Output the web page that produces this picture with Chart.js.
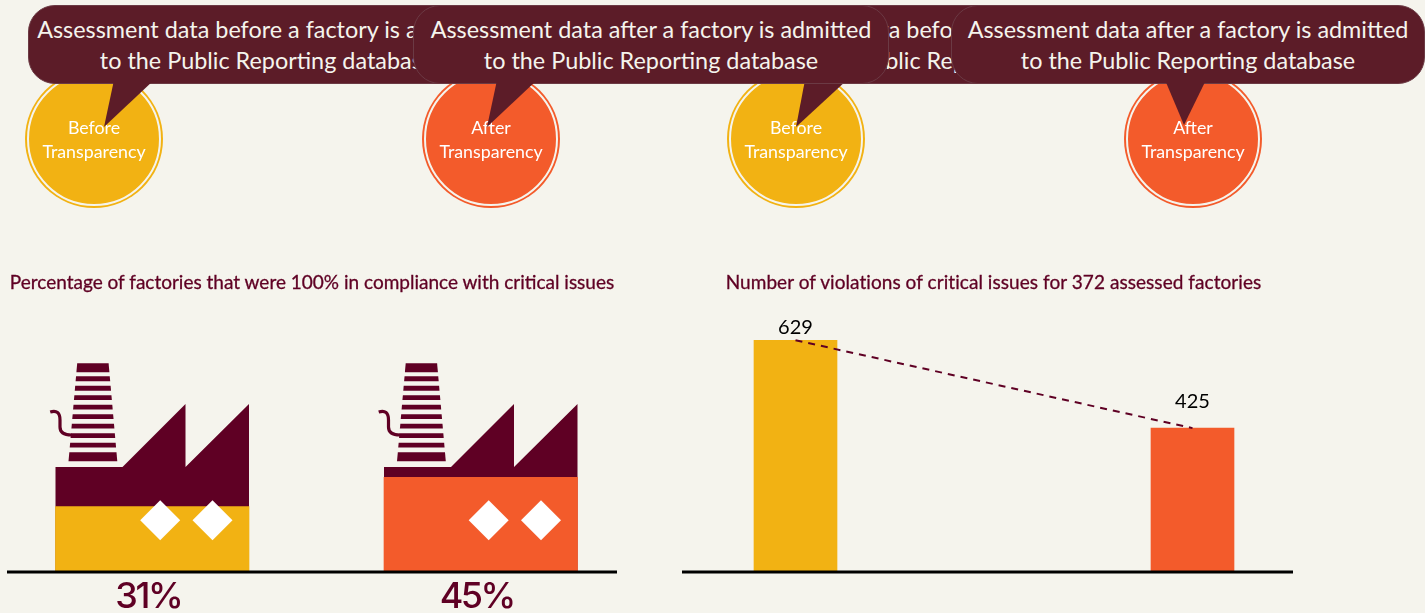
<!DOCTYPE html>
<html>
<head>
<meta charset="utf-8">
<title>Before and after transparency</title>
<script src="https://cdn.jsdelivr.net/npm/chart.js@4"></script>
<style>
  html, body { margin: 0; padding: 0; width: 1425px; height: 613px; overflow: hidden; background: #f5f4ed; font-family: Lato, sans-serif; }
  canvas { position: absolute; top: 0; }
  .title { position: absolute; top: 270px; height: 24px; line-height: 24px; font-size: 19px; color: #5f0024; -webkit-text-stroke: 0.3px #5f0024; text-align: center; white-space: nowrap; }
  .circle { position: absolute; top: 72px; width: 130px; height: 130px; border-radius: 50%; border: 2px solid #f5f4ed; color: #fff; font-size: 17.8px; line-height: 24px; text-align: center; }
  .circle span { display: block; position: relative; top: 41px; }
  .before { background: #f2b213; box-shadow: 0 0 0 2px #f2b213; }
  .after { background: #f35b2b; box-shadow: 0 0 0 2px #f35b2b; }
  .callout { position: absolute; top: 5px; height: 77px; background: #5c1c28; border: 1px solid #6b3a44; border-radius: 27px; color: #f5f4ed; font-size: 23.4px; line-height: 31px; text-align: center; white-space: nowrap; }
  .callout p { margin: 8px 0 0; }
  .tail { position: absolute; top: 0; left: 0; width: 1425px; height: 613px; background: #5c1c28; pointer-events: none; }
</style>
</head>
<body>
<canvas id="factoryChart" width="657" height="613" style="left:-12px"></canvas>
<canvas id="violationChart" width="794" height="613" style="left:597px"></canvas>

<div class="title" style="left:0;width:624px">Percentage of factories that were 100% in compliance with critical issues</div>
<div class="title" style="left:700px;width:587px;letter-spacing:0.06px">Number of violations of critical issues for 372 assessed factories</div>

<div class="circle before" style="left:27px"><span>Before</span><span>Transparency</span></div>
<div class="circle after" style="left:424px"><span>After</span><span>Transparency</span></div>
<div class="circle before" style="left:729px"><span>Before</span><span>Transparency</span></div>
<div class="circle after" style="left:1126px"><span>After</span><span>Transparency</span></div>

<div class="callout" style="left:28px;width:476px"><p>Assessment data before a factory is admitted<br>to the Public Reporting database</p></div>
<div class="tail" style="clip-path:polygon(114px 80px,104px 127px,154px 80px)"></div>
<div class="callout" style="left:719px;width:476px"><p>Assessment data before a factory is admitted<br>to the Public Reporting database</p></div>
<div class="tail" style="clip-path:polygon(805px 80px,796px 127px,847px 80px)"></div>
<div class="callout" style="left:413px;width:474px"><p>Assessment data after a factory is admitted<br>to the Public Reporting database</p></div>
<div class="tail" style="clip-path:polygon(497px 80px,487px 127px,537px 80px)"></div>
<div class="callout" style="left:951px;width:472px"><p>Assessment data after a factory is admitted<br>to the Public Reporting database</p></div>
<div class="tail" style="clip-path:polygon(1165px 80px,1184px 125px,1206px 80px)"></div>

<script>
const categories = ['Before Transparency', 'After Transparency'];
const compliancePercent = [31, 45];
const violations = [629, 425];
const barColors = ['#f2b213', '#f35b2b'];

const MAROON = '#5f0024';

// black ground line under each chart
const baselinePlugin = {
  id: 'baseline',
  afterDraw(chart, args, opts) {
    const ctx = chart.ctx;
    ctx.save();
    ctx.strokeStyle = '#000';
    ctx.lineWidth = 3;
    ctx.beginPath();
    ctx.moveTo(opts.from, chart.chartArea.bottom + 1);
    ctx.lineTo(opts.to, chart.chartArea.bottom + 1);
    ctx.stroke();
    ctx.restore();
  }
};

// factory outline behind each bar, sized from the bar itself
const factoryPlugin = {
  id: 'factory',
  beforeDraw(chart) {
    // tighter spacing for the big percent labels
    chart.ctx.letterSpacing = '-2.5px';
  },
  beforeDatasetsDraw(chart) {
    const ctx = chart.ctx;
    chart.getDatasetMeta(0).data.forEach(bar => {
      const x0 = bar.x - bar.width / 2;
      const y0 = bar.base;
      ctx.save();
      ctx.translate(x0, y0);
      ctx.fillStyle = MAROON;

      ctx.beginPath();
      ctx.moveTo(0, -104);
      ctx.lineTo(67, -104);
      ctx.lineTo(130, -167);
      ctx.lineTo(130, -104);
      ctx.lineTo(bar.width, -167);
      ctx.lineTo(bar.width, 0);
      ctx.lineTo(0, 0);
      ctx.closePath();
      ctx.fill();

      // chimney stripes, the first and last are thicker
      const cx = 37.4;
      const half = y => 15.7 + (y + 207.7) * 0.0887;
      for (let i = 0; i < 10; i++) {
        const top = i === 0 ? -207.7 : -204.1 + i * 9.47;
        const h = (i === 0 || i === 9) ? 9 : 4.8;
        ctx.beginPath();
        ctx.moveTo(cx - half(top), top);
        ctx.lineTo(cx + half(top), top);
        ctx.lineTo(cx + half(top + h), top + h);
        ctx.lineTo(cx - half(top + h), top + h);
        ctx.closePath();
        ctx.fill();
      }

      // steam curl going into the chimney
      ctx.strokeStyle = MAROON;
      ctx.lineWidth = 3.2;
      ctx.beginPath();
      ctx.moveTo(-5.3, -159);
      ctx.quadraticCurveTo(4.5, -162, 4.5, -151);
      ctx.lineTo(4.5, -144);
      ctx.quadraticCurveTo(4.5, -136, 16, -136);
      ctx.stroke();
      ctx.restore();
    });
  },
  afterDatasetsDraw(chart) {
    const ctx = chart.ctx;
    chart.getDatasetMeta(0).data.forEach(bar => {
      const x0 = bar.x - bar.width / 2;
      ctx.save();
      ctx.translate(x0, bar.base);
      ctx.fillStyle = '#fff';
      [104.7, 157].forEach(dx => {
        ctx.beginPath();
        ctx.moveTo(dx - 20, -50.7);
        ctx.lineTo(dx, -70.7);
        ctx.lineTo(dx + 20, -50.7);
        ctx.lineTo(dx, -30.7);
        ctx.closePath();
        ctx.fill();
      });
      ctx.restore();
    });
  }
};

// value above each bar
const valueLabelPlugin = {
  id: 'valueLabels',
  afterDatasetsDraw(chart, args, opts) {
    const ctx = chart.ctx;
    const meta = chart.getDatasetMeta(0);
    ctx.save();
    ctx.fillStyle = '#000';
    ctx.font = '20px Lato';
    ctx.textAlign = 'center';
    ctx.textBaseline = 'middle';
    meta.data.forEach((bar, i) => {
      ctx.fillText(String(violations[i]), bar.x, bar.y - opts.lift[i]);
    });
    ctx.restore();
  }
};

new Chart(document.getElementById('factoryChart'), {
  type: 'bar',
  data: {
    labels: categories,
    datasets: [{
      data: compliancePercent,
      backgroundColor: barColors,
      barThickness: 193.5
    }]
  },
  plugins: [factoryPlugin, baselinePlugin],
  options: {
    responsive: false,
    animation: false,
    layout: { padding: { top: 363 } },
    plugins: {
      legend: { display: false },
      tooltip: { enabled: false },
      baseline: { from: 19, to: 629 }
    },
    scales: {
      x: {
        grid: { display: false, drawTicks: false },
        border: { display: false },
        afterFit: scale => { scale.height = 42; },
        ticks: {
          padding: 5,
          labelOffset: -4,
          color: MAROON,
          font: { family: 'Inter', size: 36, weight: 500 },
          callback: (v, i) => compliancePercent[i] + '%'
        }
      },
      y: { display: false, min: 0, max: 100 }
    }
  }
});

new Chart(document.getElementById('violationChart'), {
  type: 'bar',
  data: {
    labels: categories,
    datasets: [{
      data: violations,
      backgroundColor: barColors,
      barThickness: 83,
      order: 2
    }, {
      type: 'line',
      data: violations,
      borderColor: MAROON,
      borderWidth: 2,
      borderDash: [7, 6],
      pointRadius: 0,
      tension: 0,
      clip: false,
      order: 1
    }]
  },
  plugins: [valueLabelPlugin, baselinePlugin],
  options: {
    responsive: false,
    animation: false,
    layout: { padding: { top: 300 } },
    plugins: {
      legend: { display: false },
      tooltip: { enabled: false },
      baseline: { from: 85, to: 696 },
      valueLabels: { lift: [13, 27] }
    },
    scales: {
      x: {
        grid: { display: false, drawTicks: false },
        border: { display: false },
        ticks: { display: false },
        afterFit: scale => { scale.height = 42; }
      },
      // the bars in the picture do not start at zero
      y: { display: false, min: 93.5, max: 722.3 }
    }
  }
});
</script>
</body>
</html>
